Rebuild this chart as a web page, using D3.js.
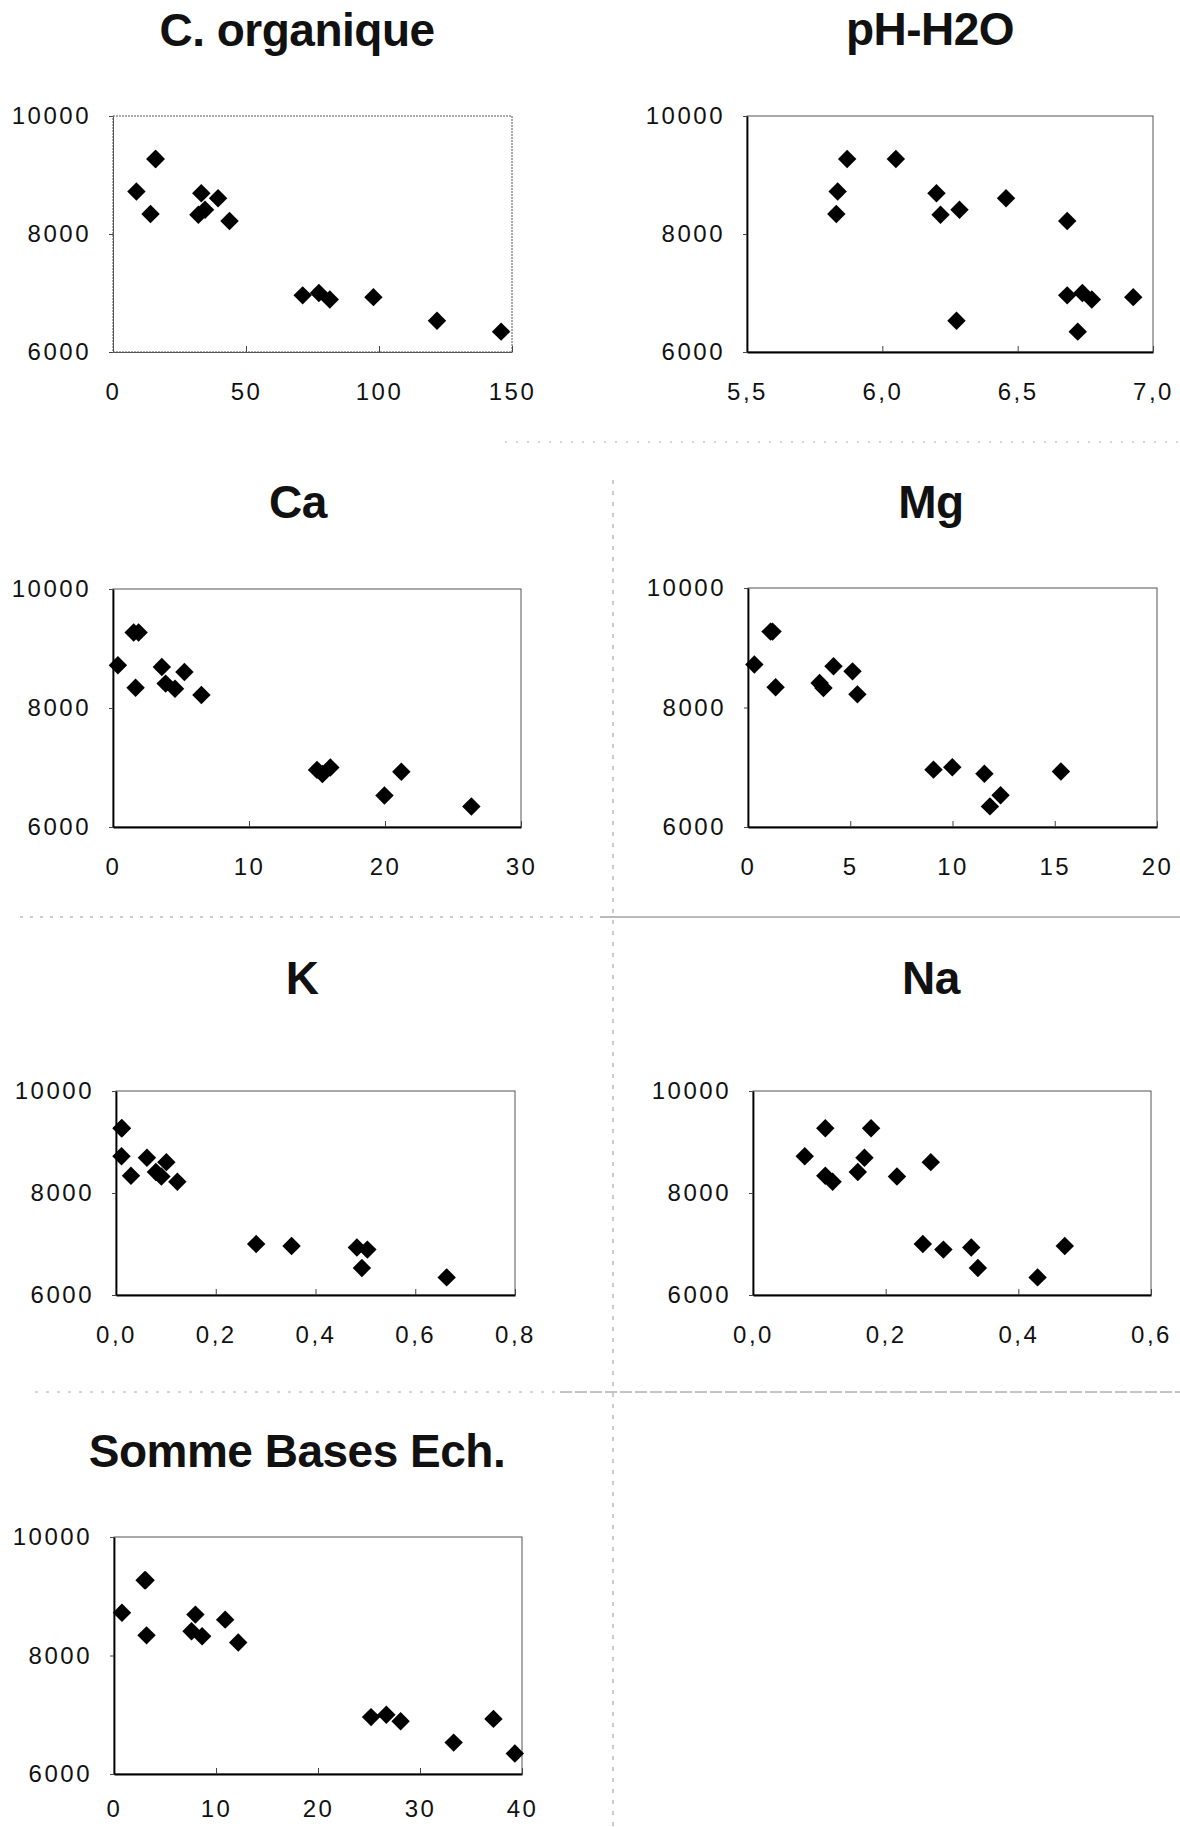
<!DOCTYPE html>
<html>
<head>
<meta charset="utf-8">
<style>
body { margin: 0; background: #fff; }
svg text { font-family: "Liberation Sans", Arial, Helvetica, sans-serif; fill: #111; }
.title { font-size: 46px; font-weight: bold; letter-spacing: -0.5px; }
.tick text { font-size: 24px; letter-spacing: 2.5px; }
</style>
</head>
<body>
<svg width="1180" height="1827"></svg>
<script src="https://cdn.jsdelivr.net/npm/d3@7"></script>
<script>
// shared y variable, one value per sample
const yValues = [9270, 9270, 8720, 8340, 8690, 8325, 8410, 8605, 8220, 6530, 6960, 7000, 6890, 6930, 6345];
const yTicks = [6000, 8000, 10000];

const titles = ["C. organique", "pH-H2O", "Ca", "Mg", "K", "Na", "Somme Bases Ech."];

// x values per variable, same sample order as yValues
const cOrganique = [16, 16, 8.8, 14.1, 33.2, 32.1, 34.6, 39.5, 43.8, 121.8, 71.3, 77.4, 81.5, 97.9, 145.9];
const phH2O = [5.87, 6.05, 5.835, 5.83, 6.2, 6.215, 6.285, 6.457, 6.683, 6.274, 6.683, 6.739, 6.774, 6.927, 6.722];
const ca = [1.52, 1.88, 0.36, 1.66, 3.59, 4.56, 3.87, 5.25, 6.5, 19.96, 15.0, 15.98, 15.4, 21.2, 26.35];
const mg = [1.1, 1.2, 0.31, 1.35, 4.18, 3.69, 3.5, 5.11, 5.35, 12.35, 9.07, 9.99, 11.56, 15.3, 11.83];
const k = [0.011, 0.012, 0.011, 0.03, 0.062, 0.091, 0.08, 0.101, 0.123, 0.493, 0.352, 0.281, 0.504, 0.483, 0.663];
const na = [0.109, 0.178, 0.078, 0.109, 0.168, 0.217, 0.158, 0.268, 0.12, 0.339, 0.47, 0.256, 0.287, 0.329, 0.429];
const sommeBases = [3.0, 3.1, 0.78, 3.19, 7.98, 8.64, 7.6, 10.9, 12.18, 33.3, 25.2, 26.7, 28.1, 37.2, 39.3];

const xSeries = [cOrganique, phH2O, ca, mg, k, na, sommeBases];
const xDomains = [[0, 150], [5.5, 7], [0, 30], [0, 20], [0, 0.8], [0, 0.6], [0, 40]];
const xTicks = [
    [0, 50, 100, 150],
    [5.5, 6.0, 6.5, 7.0],
    [0, 10, 20, 30],
    [0, 5, 10, 15, 20],
    [0, 0.2, 0.4, 0.6, 0.8],
    [0, 0.2, 0.4, 0.6],
    [0, 10, 20, 30, 40]
];
const decimals = [0, 1, 0, 0, 1, 1, 0];

// page layout of each panel (plot box, title, gap to x labels)
const boxes = [
    {left: 113, right: 512, top: 116, bottom: 352, tx: 297, ty: 46, pad: 31},
    {left: 747, right: 1153, top: 116, bottom: 352, tx: 930, ty: 45, pad: 31},
    {left: 113, right: 521, top: 589, bottom: 827, tx: 298, ty: 518, pad: 31},
    {left: 748, right: 1157, top: 588, bottom: 827, tx: 931, ty: 518, pad: 31},
    {left: 116, right: 515, top: 1091, bottom: 1295, tx: 302, ty: 994, pad: 31},
    {left: 753, right: 1151, top: 1091, bottom: 1295, tx: 931, ty: 994, pad: 31},
    {left: 114, right: 522, top: 1537, bottom: 1774, tx: 297, ty: 1467, pad: 26}
];

let svg = d3.select("svg");

let frLocale = d3.formatLocale({decimal: ",", thousands: "", grouping: [3], currency: ["", ""]});

function drawRules(){
    let g = svg.append("g").attr("class", "rules")
        .attr("fill", "none");
    g.append("line")
        .attr("x1", 505).attr("x2", 1180).attr("y1", 442).attr("y2", 442)
        .attr("stroke", "#aaa").attr("stroke-dasharray", "2,9");
    g.append("line")
        .attr("x1", 20).attr("x2", 600).attr("y1", 917).attr("y2", 917)
        .attr("stroke", "#999").attr("stroke-dasharray", "3,7");
    g.append("line")
        .attr("x1", 600).attr("x2", 1180).attr("y1", 917).attr("y2", 917)
        .attr("stroke", "#777");
    g.append("line")
        .attr("x1", 35).attr("x2", 560).attr("y1", 1392).attr("y2", 1392)
        .attr("stroke", "#aaa").attr("stroke-dasharray", "3,8");
    g.append("line")
        .attr("x1", 560).attr("x2", 1180).attr("y1", 1392).attr("y2", 1392)
        .attr("stroke", "#888").attr("stroke-dasharray", "12,3");
    g.append("line")
        .attr("x1", 613).attr("x2", 613).attr("y1", 480).attr("y2", 1827)
        .attr("stroke", "#999").attr("stroke-dasharray", "4,7");
}

function drawPanel(i){
    let b = boxes[i];
    let x = d3.scaleLinear().domain(xDomains[i]).range([b.left, b.right]);
    let y = d3.scaleLinear().domain([6000, 10000]).range([b.bottom, b.top]);
    let g = svg.append("g").attr("class", "panel");

    g.append("text")
        .attr("class", "title")
        .attr("x", b.tx)
        .attr("y", b.ty)
        .attr("text-anchor", "middle")
        .text(titles[i]);

    // frame: top and right drawn lighter, like the scan
    g.append("rect")
        .attr("x", b.left).attr("y", b.top)
        .attr("width", b.right - b.left).attr("height", b.bottom - b.top)
        .attr("fill", "none")
        .attr("stroke", "#555")
        .attr("stroke-width", 1)
        .attr("stroke-dasharray", i == 0 ? "2,1" : null);

    let fmt = frLocale.format("." + decimals[i] + "f");

    let xAxis = g.append("g")
        .attr("transform", "translate(0," + b.bottom + ")")
        .call(d3.axisBottom(x).tickValues(xTicks[i]).tickFormat(fmt)
            .tickSizeInner(-6).tickSizeOuter(0).tickPadding(b.pad));
    let yAxis = g.append("g")
        .attr("transform", "translate(" + b.left + ",0)")
        .call(d3.axisLeft(y).tickValues(yTicks).tickFormat(d3.format("d"))
            .tickSizeInner(4).tickSizeOuter(0).tickPadding(18));

    [xAxis, yAxis].forEach((a)=>{
        a.attr("font-family", null).attr("font-size", null);
        a.select(".domain")
            .attr("stroke", i == 0 ? "#555" : "#000")
            .attr("stroke-width", i == 0 ? 1 : 1.8);
        a.selectAll(".tick line").attr("stroke", "#444");
    });

    let points = yValues.map((v, j)=>({x: xSeries[i][j], y: v}));
    g.append("g")
        .selectAll("path")
        .data(points).enter().append("path")
            .attr("d", d3.symbol(d3.symbolSquare, 170))
            .attr("transform", d => "translate(" + x(d.x) + "," + y(d.y) + ") rotate(45)")
            .attr("fill", "#000");
}

drawRules();
titles.forEach((t, i)=> drawPanel(i));
</script>
</body>
</html>
